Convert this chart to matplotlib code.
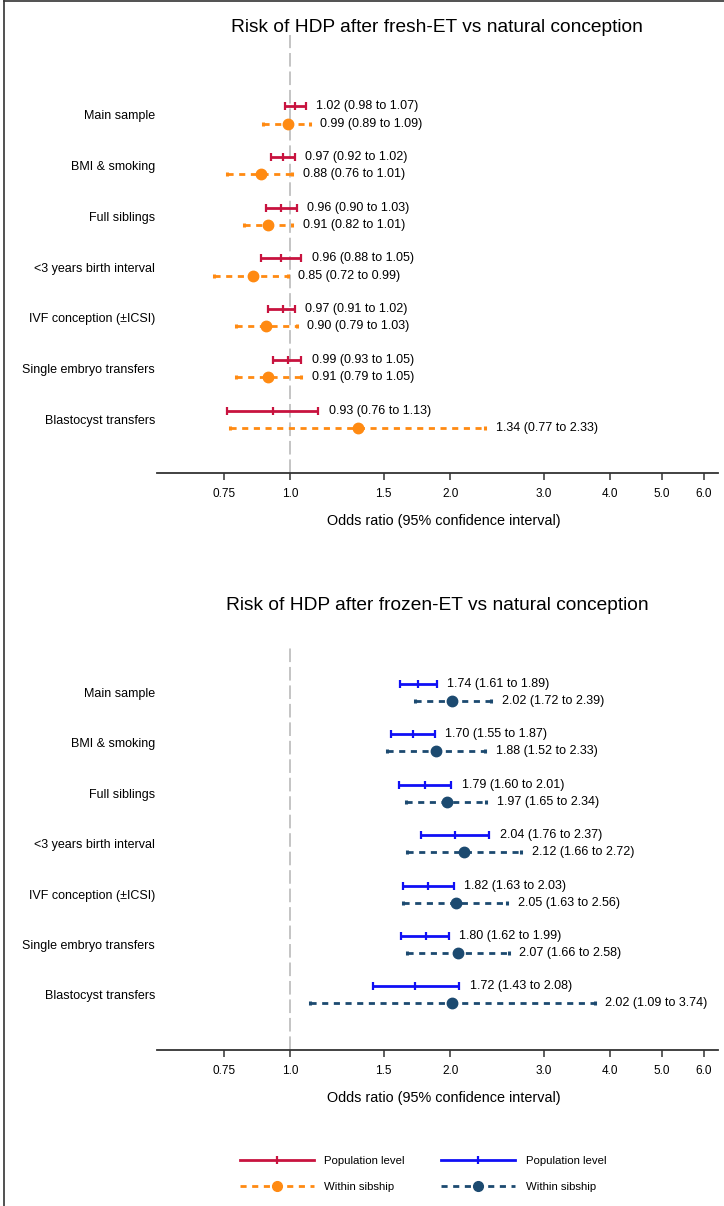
import matplotlib
matplotlib.use("Agg")
import matplotlib.pyplot as plt
from matplotlib.lines import Line2D
from matplotlib.ticker import NullLocator

plt.rcParams['font.family'] = ['Liberation Sans', 'DejaVu Sans']

# ---- data -------------------------------------------------------------
rows = ["Main sample", "BMI & smoking", "Full siblings", "<3 years birth interval",
        "IVF conception (\u00b1ICSI)", "Single embryo transfers", "Blastocyst transfers"]

# fresh-ET vs natural conception
fresh_pop_or = [1.02, 0.97, 0.96, 0.96, 0.97, 0.99, 0.93]
fresh_pop_lo = [0.98, 0.92, 0.90, 0.88, 0.91, 0.93, 0.76]
fresh_pop_hi = [1.07, 1.02, 1.03, 1.05, 1.02, 1.05, 1.13]
fresh_sib_or = [0.99, 0.88, 0.91, 0.85, 0.90, 0.91, 1.34]
fresh_sib_lo = [0.89, 0.76, 0.82, 0.72, 0.79, 0.79, 0.77]
fresh_sib_hi = [1.09, 1.01, 1.01, 0.99, 1.03, 1.05, 2.33]

# frozen-ET vs natural conception
frozen_pop_or = [1.74, 1.70, 1.79, 2.04, 1.82, 1.80, 1.72]
frozen_pop_lo = [1.61, 1.55, 1.60, 1.76, 1.63, 1.62, 1.43]
frozen_pop_hi = [1.89, 1.87, 2.01, 2.37, 2.03, 1.99, 2.08]
frozen_sib_or = [2.02, 1.88, 1.97, 2.12, 2.05, 2.07, 2.02]
frozen_sib_lo = [1.72, 1.52, 1.65, 1.66, 1.63, 1.66, 1.09]
frozen_sib_hi = [2.39, 2.33, 2.34, 2.72, 2.56, 2.58, 3.74]

xticks = [0.75, 1.0, 1.5, 2.0, 3.0, 4.0, 5.0, 6.0]
xtick_labels = ["0.75", "1.0", "1.5", "2.0", "3.0", "4.0", "5.0", "6.0"]

# ---- style ------------------------------------------------------------
W, H = 724, 1206
C_FRESH_POP = "#C8133F"
C_FRESH_SIB = "#FF8A12"
C_FROZEN_POP = "#1010F5"
C_FROZEN_SIB = "#1C4A70"
SIB_DASH = (0, (2.2, 2))

fig = plt.figure(figsize=(W / 100, H / 100), dpi=100)


def px_axes(left, top, right, bottom):
    return fig.add_axes([left / W, 1 - bottom / H, (right - left) / W, (bottom - top) / H])


def fmt(o, lo, hi):
    return f"{o:.2f} ({lo:.2f} to {hi:.2f})"


def draw_panel(ax, title, title_y, pop, sib, c_pop, c_sib, first_px, step_px, top_px, bot_px):
    ax.set_xscale("log")
    ax.set_xlim(0.562, 6.38)
    ax.set_ylim((bot_px - first_px) / step_px, (top_px - first_px) / step_px)
    ax.axvline(1.0, color="#C4C4C4", lw=1.4, ls=(0, (7, 2.5)), zorder=0)

    off = 0.17
    for i in range(len(rows)):
        # population level
        o, lo, hi = pop[0][i], pop[1][i], pop[2][i]
        y = i - off
        ax.hlines(y, lo, hi, color=c_pop, lw=2.0, zorder=3)
        ax.plot([lo, o, hi], [y, y, y], ls="none", marker="|", ms=6, mew=1.6,
                color=c_pop, zorder=4)
        ax.annotate(fmt(o, lo, hi), xy=(hi, y), xytext=(7.5, 0), textcoords="offset points",
                    va="center", ha="left", fontsize=9)
        # within sibship
        o, lo, hi = sib[0][i], sib[1][i], sib[2][i]
        y = i + off
        ax.hlines(y, lo, hi, color=c_sib, lw=2.0, ls=SIB_DASH, zorder=3)
        ax.plot([lo, hi], [y, y], ls="none", marker="|", ms=3, mew=2.2, color=c_sib, zorder=4)
        ax.plot([o], [y], ls="none", marker="o", ms=7.5, color=c_sib, zorder=5)
        ax.annotate(fmt(o, lo, hi), xy=(hi, y), xytext=(7.5, 0), textcoords="offset points",
                    va="center", ha="left", fontsize=9)

    ax.xaxis.set_minor_locator(NullLocator())
    ax.set_xticks(xticks)
    ax.set_xticklabels(xtick_labels)
    ax.set_yticks(range(len(rows)))
    ax.set_yticklabels(rows)
    ax.tick_params(axis="x", direction="out", length=5, width=1.1, color="#333333",
                   pad=6, labelsize=8.5)
    ax.tick_params(axis="y", length=0, pad=1.5, labelsize=9)
    for s in ("top", "left", "right"):
        ax.spines[s].set_visible(False)
    ax.spines["bottom"].set_color("#333333")
    ax.spines["bottom"].set_linewidth(1.3)
    ax.patch.set_alpha(0)

    fig.text(437 / W, 1 - title_y / H, title, ha="center", va="center", fontsize=13.8)
    fig.text(444 / W, 1 - (bot_px + 48) / H, "Odds ratio (95% confidence interval)",
             ha="center", va="center", fontsize=10.4)


ax1 = px_axes(157, 35, 718, 473)
draw_panel(ax1, "Risk of HDP after fresh-ET vs natural conception", 28,
           (fresh_pop_or, fresh_pop_lo, fresh_pop_hi),
           (fresh_sib_or, fresh_sib_lo, fresh_sib_hi),
           C_FRESH_POP, C_FRESH_SIB, 115, 50.7, 35, 473)

ax2 = px_axes(157, 645, 718, 1050)
draw_panel(ax2, "Risk of HDP after frozen-ET vs natural conception", 605,
           (frozen_pop_or, frozen_pop_lo, frozen_pop_hi),
           (frozen_sib_or, frozen_sib_lo, frozen_sib_hi),
           C_FROZEN_POP, C_FROZEN_SIB, 692.5, 50.4, 645, 1050)

# ---- legend -----------------------------------------------------------
handles = [
    Line2D([], [], color=C_FRESH_POP, lw=2, marker="|", ms=6, mew=1.6),
    Line2D([], [], color=C_FRESH_SIB, lw=2, ls=SIB_DASH, marker="o", ms=7),
    Line2D([], [], color=C_FROZEN_POP, lw=2, marker="|", ms=6, mew=1.6),
    Line2D([], [], color=C_FROZEN_SIB, lw=2, ls=SIB_DASH, marker="o", ms=7),
]
labels = ["Population level", "Within sibship", "Population level", "Within sibship"]
fig.legend(handles, labels, loc="center left", bbox_to_anchor=(240 / W, 1 - 1174 / H),
           ncol=2, frameon=False, fontsize=8.2, handlelength=6.5, handletextpad=0.9,
           columnspacing=3.2, labelspacing=1.4, borderpad=0, borderaxespad=0,
           markerfirst=True)

# thin frame on the top and left edges
fig.add_artist(Line2D([4 / W, 4 / W], [0, 1 - 1 / H], color="#333333", lw=1.2))
fig.add_artist(Line2D([4 / W, 1], [1 - 1 / H, 1 - 1 / H], color="#333333", lw=1.2))

fig.savefig("out.png", dpi=100)
